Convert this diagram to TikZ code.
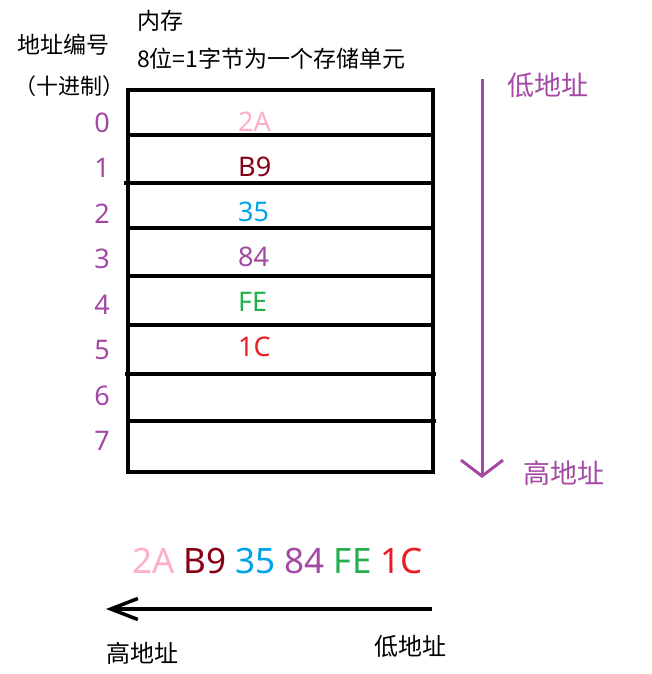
\documentclass[tikz,border=0pt]{standalone}
\usepackage{fontspec}
\setmainfont{Noto Sans CJK SC}
\newfontfamily\latinfont{Noto Sans}
\usetikzlibrary{arrows.meta}
\definecolor{paintpurple}{HTML}{A349A4}
\definecolor{paintpink}{HTML}{FFAEC9}
\definecolor{paintdarkred}{HTML}{880015}
\definecolor{paintblue}{HTML}{00A2E8}
\definecolor{paintgreen}{HTML}{22B14C}
\definecolor{paintred}{HTML}{ED1C24}
\tikzset{
  cell/.style={line width=3.2pt},
  addr/.style={inner sep=0pt, text=paintpurple, font=\latinfont\fontsize{27}{30}\selectfont},
  val/.style={inner sep=0pt, anchor=west, font=\latinfont\fontsize{27}{30}\selectfont},
  caption/.style={inner sep=0pt, anchor=west, font=\fontsize{23}{28}\selectfont},
  purplelabel/.style={inner sep=0pt, anchor=west, text=paintpurple, font=\fontsize{27}{32}\selectfont}
}
\begin{document}
\begin{tikzpicture}[x=1pt,y=-1pt]
  \useasboundingbox (0,0) rectangle (651,674);

  \coordinate (TL) at (128,90);
  \coordinate (BR) at (433,472);
  \draw[cell] (TL) rectangle (BR);

  % row lines, drawn roughly by hand
  \foreach \y/\xa/\xb in {135/128/433, 183/124/433, 228/128/433, 276/128/433,
                          325/128/433, 374/125/436, 421/128/436}
    \draw[cell] (\xa,\y) -- (\xb,\y);

  \node[caption] (mem) at (137,21) {内存};
  \node[caption] (unit) at (137,59) {8位=1字节为一个存储单元};
  \node[caption] (addrhead) at (17,45) {地址编号};
  \node[caption, anchor=east, font=\fontsize{22}{26}\selectfont] (radix) at (125,86) {（十进制）};

  \foreach \i in {0,...,7}
    \node[addr] (a\i) at (102,{122.5+45.5*\i}) {\i};

  \foreach \i/\v/\c in {0/2A/paintpink, 1/B9/paintdarkred, 2/35/paintblue,
                        3/84/paintpurple, 4/FE/paintgreen, 5/1C/paintred}
    \node[val,text=\c] (v\i) at (238,{121.5+45*\i}) {\v};

  \coordinate (lowTop) at (482,79);
  \coordinate (highTip) at (482,478);
  \draw[paintpurple, line width=3pt, -{Straight Barb[length=16pt,width=42pt]}] (lowTop) -- (highTip);
  \node[purplelabel] (lowR) at (507,85) {低地址};
  \node[purplelabel] (highR) at (523,473) {高地址};

  \node[inner sep=0pt, anchor=west, font=\latinfont\fontsize{35}{40}\selectfont] (bytes) at (132,561)
    {\textcolor{paintpink}{2A} \textcolor{paintdarkred}{B9} \textcolor{paintblue}{35}
     \textcolor{paintpurple}{84} \textcolor{paintgreen}{FE} \textcolor{paintred}{1C}};

  \coordinate (lowB) at (432,609);
  \coordinate (highB) at (106,609);
  \draw[line width=3.5pt, -{Straight Barb[length=27pt,width=21pt]}] (lowB) -- (highB);
  \node[caption, font=\fontsize{24}{28}\selectfont] (highL) at (106,653) {高地址};
  \node[caption, font=\fontsize{24}{28}\selectfont] (lowL) at (374,646) {低地址};
\end{tikzpicture}
\end{document}
